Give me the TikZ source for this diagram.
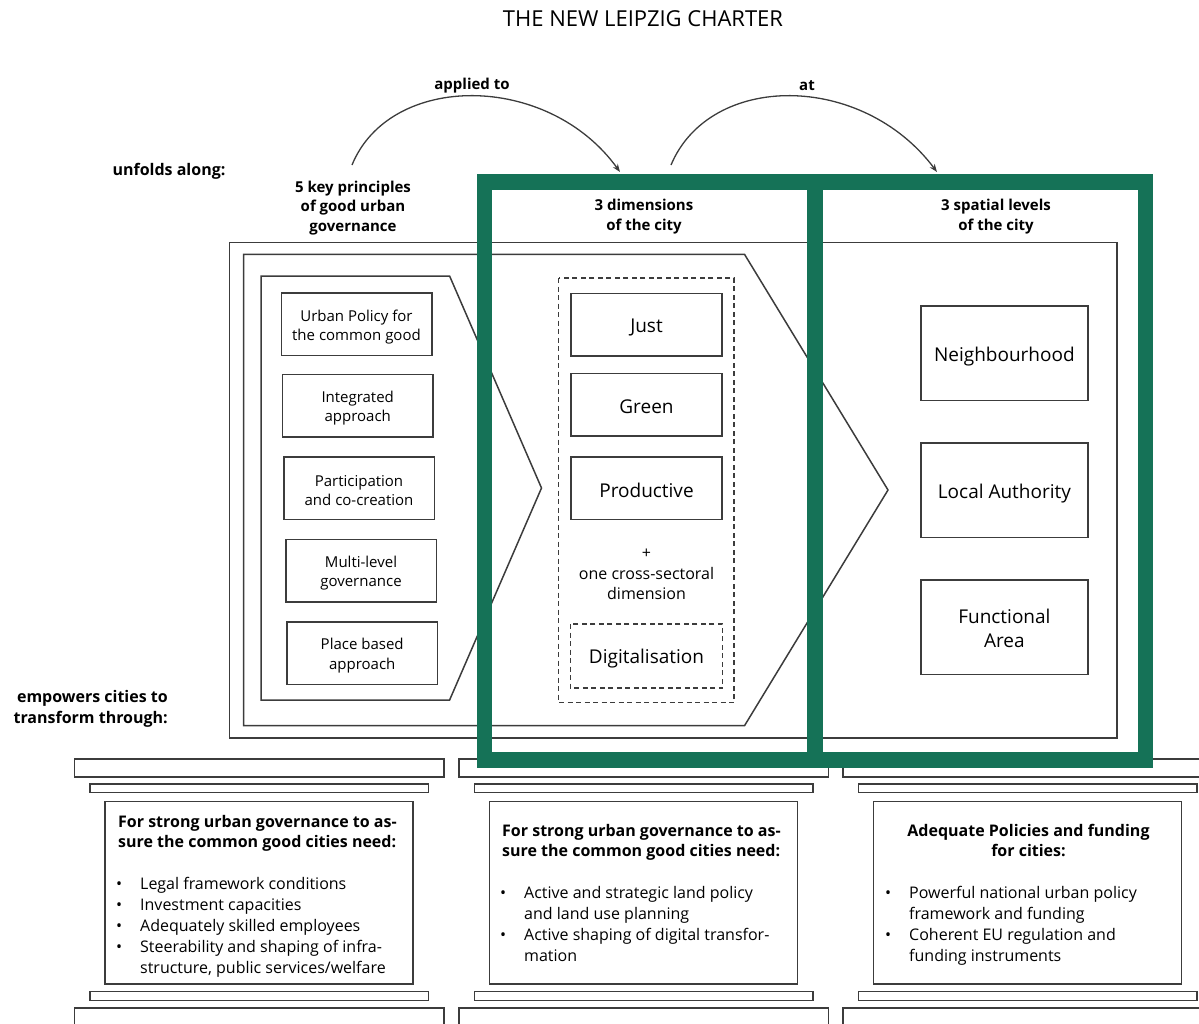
\documentclass[tikz,border=0pt]{standalone}
\usepackage{fontspec}
\setmainfont{Open Sans}
\usetikzlibrary{arrows.meta}
\definecolor{lgreen}{RGB}{21,114,87}
\definecolor{linec}{RGB}{60,60,60}
\newcommand{\setfs}[2]{\fontsize{#1}{#2}\selectfont}
\begin{document}
\begin{tikzpicture}[x=1pt,y=-1pt,
  pbox/.style={draw=linec,line width=1.5,inner sep=0,minimum width=150.5,minimum height=62.5},
  ptext/.style={inner sep=0,align=center,font=\setfs{15}{19.5}},
  dbox/.style={draw=linec,line width=1.5,inner sep=0,minimum width=151,minimum height=62.5},
  dtext/.style={inner sep=0,align=center,font=\setfs{19}{23}},
  sbox/.style={draw=linec,line width=1.5,inner sep=0,minimum width=167,minimum height=94.5},
  stext/.style={inner sep=0,align=center,font=\setfs{19}{24.5}},
  frame/.style={draw=linec,line width=1.5},
  dashframe/.style={draw=linec,line width=1.3,dash pattern=on 5pt off 3.5pt},
  lbl/.style={inner sep=0,align=center,font=\bfseries\setfs{15}{19.5}},
  side/.style={inner sep=0,font=\bfseries\setfs{16}{20.5}},
  btxt/.style={anchor=base west,inner sep=0,font=\setfs{16}{20}},
  bhead/.style={anchor=base west,inner sep=0,font=\bfseries\setfs{16}{20}},
  arc/.style={draw=linec,line width=1.3,-{Stealth[length=8pt,width=6pt]}}
]
\useasboundingbox (0,0) rectangle (1199,1023);
\clip (0,0) rectangle (1199,1023);

% title
\node[inner sep=0,font=\setfs{22}{26}] (title) at (643,19) {THE NEW LEIPZIG CHARTER};

% arcs
\node[lbl] (applied) at (472,86) {applied to};
\node[lbl] (atl) at (807,85.5) {at};
\coordinate (a1s) at (352,165);
\coordinate (a1e) at (620,172);
\coordinate (a2s) at (671,165);
\coordinate (a2e) at (937,172);
\draw[arc] (a1s) .. controls (390,72) and (548,72) .. (a1e);
\draw[arc] (a2s) .. controls (710,72) and (862,72) .. (a2e);

% side labels
\node[side] (unfolds) at (169,171) {unfolds along:};
\node[side,align=right,anchor=east] (empowers) at (168,709) {empowers cities to\\transform through:};

% column titles
\node[lbl] (t1) at (353,208) {5 key principles\\of good urban\\governance};
\node[lbl] (t2) at (644,216.5) {3 dimensions\\of the city};
\node[lbl] (t3) at (996,216.5) {3 spatial levels\\of the city};

% outer frame and chevrons
\draw[frame] (229.6,242.5) rectangle (1117,738);
\draw[frame] (243.7,254.3) -- (744.5,254.3) -- (888,490) -- (744.5,725.7) -- (243.7,725.7) -- cycle;
\draw[frame] (261,276) -- (449.6,276) -- (541.5,488) -- (449.6,700) -- (261,700) -- cycle;

% principles
\node[pbox] (p1) at (356.5,324.3) {};
\node[pbox] (p2) at (357.7,405.5) {};
\node[pbox] (p3) at (359,488) {};
\node[pbox] (p4) at (361,570.5) {};
\node[pbox] (p5) at (362.2,653.3) {};
\node[ptext] (p1t) at (356.5,327) {Urban Policy for\\the common good};
\node[ptext] (p2t) at (357.7,408) {Integrated\\approach};
\node[ptext] (p3t) at (359,490.5) {Participation\\and co-creation};
\node[ptext] (p4t) at (361,573) {Multi-level\\governance};
\node[ptext] (p5t) at (362.2,655.8) {Place based\\approach};

% dimensions
\draw[dashframe] (558.7,278) rectangle (734,702.7);
\node[dbox] (d1) at (646.5,324.6) {};
\node[dbox] (d2) at (646.5,404.5) {};
\node[dbox] (d3) at (646.5,488) {};
\node[dtext] (d1t) at (646.5,327.5) {Just};
\node[dtext] (d2t) at (646.5,407) {Green};
\node[dtext] (d3t) at (646.5,490.5) {Productive};
\node[inner sep=0,align=center,font=\setfs{16}{20.3}] (cross) at (646.5,574.5) {+\\one cross-sectoral\\dimension};
\node[dbox,draw=none] (d4) at (646.5,656) {};
\draw[dashframe] (d4.north west) rectangle (d4.south east);
\node[dtext] (d4t) at (646.5,659) {Digitalisation};

% spatial levels
\node[sbox] (s1) at (1004.4,353.4) {};
\node[sbox] (s2) at (1004.4,490) {};
\node[sbox] (s3) at (1004.4,627) {};
\node[stext] (s1t) at (1004.4,356.5) {Neighbourhood};
\node[stext] (s2t) at (1004.4,493.5) {Local Authority};
\node[stext] (s3t) at (1004.4,628.5) {Functional\\Area};

% pillars
\foreach \dx in {0,384.3,768.6}{
  \draw[frame] (74.6+\dx,759) rectangle (444+\dx,777);
  \draw[frame] (90+\dx,784) rectangle (428.6+\dx,792.7);
  \draw[frame] (90+\dx,991.7) rectangle (428.6+\dx,1000.7);
  \draw[frame] (74.6+\dx,1008) rectangle (444+\dx,1040);
}
\node[frame,inner sep=0,minimum width=308,minimum height=182.3] (b1) at (259,892.8) {};
\node[frame,inner sep=0,minimum width=308,minimum height=182.3] (b2) at (643.3,892.8) {};
\node[frame,inner sep=0,minimum width=308,minimum height=182.3] (b3) at (1027.6,892.8) {};

% box 1 text
\node[bhead] (b1h1) at (118,827.5) {For strong urban governance to as-};
\node[bhead] (b1h2) at (118,847.5) {sure the common good cities need:};
\node[btxt] (b1u1) at (116,889.5) {\textbullet};
\node[btxt] (b1l1) at (140,889.5) {Legal framework conditions};
\node[btxt] (b1u2) at (116,910.5) {\textbullet};
\node[btxt] (b1l2) at (140,910.5) {Investment capacities};
\node[btxt] (b1u3) at (116,931.5) {\textbullet};
\node[btxt] (b1l3) at (140,931.5) {Adequately skilled employees};
\node[btxt] (b1u4) at (116,952.5) {\textbullet};
\node[btxt] (b1l4) at (140,952.5) {Steerability and shaping of infra-};
\node[btxt] (b1l5) at (140,973.5) {structure, public services/welfare};

% box 2 text
\node[bhead] (b2h1) at (502,836.5) {For strong urban governance to as-};
\node[bhead] (b2h2) at (502,856.5) {sure the common good cities need:};
\node[btxt] (b2u1) at (500,898.5) {\textbullet};
\node[btxt] (b2l1) at (524,898.5) {Active and strategic land policy};
\node[btxt] (b2l2) at (524,919.5) {and land use planning};
\node[btxt] (b2u2) at (500,940.5) {\textbullet};
\node[btxt] (b2l3) at (524,940.5) {Active shaping of digital transfor-};
\node[btxt] (b2l4) at (524,961.5) {mation};

% box 3 text
\node[bhead,anchor=base] (b3h1) at (1028.5,836.5) {Adequate Policies and funding};
\node[bhead,anchor=base] (b3h2) at (1028.5,856.5) {for cities:};
\node[btxt] (b3u1) at (885,898.5) {\textbullet};
\node[btxt] (b3l1) at (909,898.5) {Powerful national urban policy};
\node[btxt] (b3l2) at (909,919.5) {framework and funding};
\node[btxt] (b3u2) at (885,940.5) {\textbullet};
\node[btxt] (b3l3) at (909,940.5) {Coherent EU regulation and};
\node[btxt] (b3l4) at (909,961.5) {funding instruments};

% green highlight frames
\draw[lgreen,line width=15.5] (484.5,182) rectangle (815,760);
\draw[lgreen,line width=15.5] (815,182) rectangle (1145.5,760);
\end{tikzpicture}
\end{document}
